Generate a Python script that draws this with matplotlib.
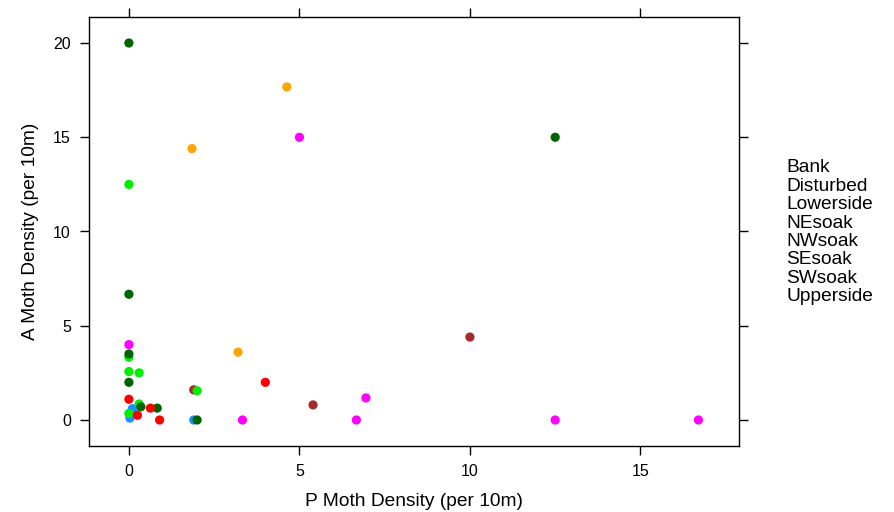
import matplotlib.pyplot as plt

plt.rcParams['font.family'] = ['Liberation Sans', 'DejaVu Sans']

groups = ["Bank", "Disturbed", "Lowerside", "NEsoak", "NWsoak", "SEsoak", "SWsoak", "Upperside"]
colors = ["#1E90FF", "#A52A2A", "#006400", "#00EE00", "#FF00FF", "#FFA500", "#FF0000", "#006400"]

# P moth density (x) and A moth density (y) per group
px = {
    "Bank":      [1.9, 0.1, 0.06, 0.03, 0.15],
    "Disturbed": [10.0, 1.9, 5.4],
    "Lowerside": [0.0, 12.5, 0.0, 0.83],
    "NEsoak":    [0.0, 0.0, 0.0, 0.3, 2.0, 0.3, 0.0],
    "NWsoak":    [5.0, 0.0, 3.33, 6.67, 6.95, 12.5, 16.7],
    "SEsoak":    [1.85, 4.63, 3.2],
    "SWsoak":    [4.0, 0.0, 0.63, 0.9, 0.25],
    "Upperside": [0.0, 0.0, 2.0, 0.35],
}
ay = {
    "Bank":      [0.0, 0.6, 0.27, 0.1, 0.35],
    "Disturbed": [4.4, 1.6, 0.8],
    "Lowerside": [20.0, 15.0, 6.67, 0.63],
    "NEsoak":    [12.5, 3.33, 2.57, 2.5, 1.55, 0.85, 0.35],
    "NWsoak":    [15.0, 4.0, 0.0, 0.0, 1.17, 0.0, 0.0],
    "SEsoak":    [14.4, 17.67, 3.6],
    "SWsoak":    [2.0, 1.1, 0.63, 0.0, 0.25],
    "Upperside": [3.5, 2.0, 0.0, 0.7],
}

fig = plt.figure(figsize=(8.94, 5.12), dpi=100)
ax = fig.add_axes([89/894, 1 - 446/512, 650/894, 429/512])

for g, c in zip(groups, colors):
    ax.scatter(px[g], ay[g], s=44, color=c, edgecolors='none', zorder=3)

ax.set_xlim(-1.17, 17.89)
ax.set_ylim(-1.38, 21.38)
ax.set_xticks([0, 5, 10, 15])
ax.set_yticks([0, 5, 10, 15, 20])
ax.tick_params(direction='out', length=6.5, width=1, labelsize=11.5,
               top=True, right=True, pad=6.5)
for spine in ax.spines.values():
    spine.set_color('black')
    spine.set_linewidth(1)

ax.set_xlabel("P Moth Density (per 10m)", fontsize=13.8, labelpad=10)
ax.set_ylabel("A Moth Density (per 10m)", fontsize=13.8, labelpad=10)

# legend as plain text, no symbols
for i, g in enumerate(groups):
    fig.text(786/894, 1 - (168 + i * 18.4) / 512, g, fontsize=13.8,
             va='center', ha='left')

plt.savefig("out.png", dpi=100)
